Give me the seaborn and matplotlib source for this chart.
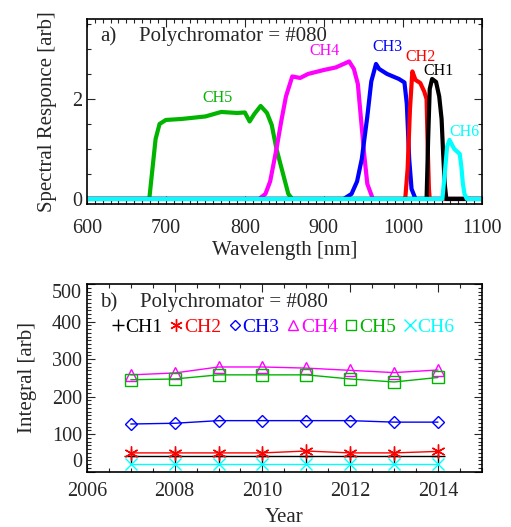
import pandas as pd
import matplotlib.pyplot as plt
from matplotlib.lines import Line2D
from matplotlib.ticker import MultipleLocator
import seaborn as sns

# spectral response curves (wavelength [nm], response [arb])
ch5_wl = [600, 679, 683, 687, 692, 700, 720, 750, 770, 790, 800, 806, 812, 820, 828, 834, 840, 848, 855, 860, 1100]
ch5_resp = [0, 0, 0.6, 1.2, 1.5, 1.58, 1.6, 1.65, 1.74, 1.72, 1.73, 1.55, 1.7, 1.86, 1.72, 1.48, 1.0, 0.52, 0.1, 0, 0]
ch4_wl = [600, 818, 826, 832, 840, 846, 852, 860, 870, 880, 900, 915, 925, 932, 938, 943, 947, 951, 955, 962, 1100]
ch4_resp = [0, 0, 0.1, 0.35, 1.0, 1.55, 2.05, 2.45, 2.42, 2.5, 2.58, 2.63, 2.7, 2.75, 2.6, 2.3, 1.6, 0.9, 0.3, 0, 0]
ch3_wl = [600, 925, 935, 942, 948, 955, 960, 966, 970, 980, 995, 1002, 1005, 1008, 1011, 1016, 1100]
ch3_resp = [0, 0, 0.1, 0.35, 0.8, 1.65, 2.35, 2.7, 2.6, 2.5, 2.4, 2.33, 1.9, 0.8, 0.2, 0, 0]
ch2_wl = [600, 1003, 1006, 1009, 1012, 1016, 1022, 1027, 1030, 1031.5, 1033, 1034, 1100]
ch2_resp = [0, 0, 0.6, 1.8, 2.55, 2.38, 2.32, 2.15, 2.0, 1.0, 0.2, 0, 0]
ch1_wl = [600, 1030, 1032, 1034, 1037, 1042, 1046, 1049, 1051, 1053, 1055, 1100]
ch1_resp = [0, 0, 1.2, 2.2, 2.4, 2.34, 2.05, 1.6, 0.9, 0.3, 0, 0]
ch6_wl = [600, 1050, 1053, 1056, 1059, 1065, 1072, 1074, 1076, 1078, 1081, 1100]
ch6_resp = [0, 0, 0.5, 1.05, 1.18, 1.0, 0.9, 0.65, 0.3, 0.1, 0, 0]

# integrated response per year
years = [2007, 2008, 2009, 2010, 2011, 2012, 2013, 2014]
ch1_int = [41, 41, 41, 41, 41, 41, 41, 41]
ch2_int = [50, 50, 50, 50, 55, 50, 50, 54]
ch3_int = [127, 129, 136, 136, 136, 136, 132, 132]
ch4_int = [258, 263, 279, 279, 276, 270, 264, 271]
ch5_int = [245, 247, 258, 258, 258, 247, 239, 251]
ch6_int = [20, 20, 20, 20, 20, 20, 20, 20]

channels = ['CH1', 'CH2', 'CH3', 'CH4', 'CH5', 'CH6']
colors = {'CH1': 'black', 'CH2': '#ff0000', 'CH3': '#0000ff',
          'CH4': '#ff00ff', 'CH5': '#00b400', 'CH6': '#00ffff'}
markers = {'CH1': '+', 'CH2': (6, 2, 0), 'CH3': 'D', 'CH4': '^', 'CH5': 's', 'CH6': 'x'}
msizes = {'CH1': 10, 'CH2': 10, 'CH3': 6.5, 'CH4': 8, 'CH5': 8, 'CH6': 9}

spectra = {'CH5': (ch5_wl, ch5_resp), 'CH4': (ch4_wl, ch4_resp), 'CH3': (ch3_wl, ch3_resp),
           'CH2': (ch2_wl, ch2_resp), 'CH1': (ch1_wl, ch1_resp), 'CH6': (ch6_wl, ch6_resp)}
integrals = {'CH1': ch1_int, 'CH2': ch2_int, 'CH3': ch3_int,
             'CH4': ch4_int, 'CH5': ch5_int, 'CH6': ch6_int}

df_spec = pd.concat([pd.DataFrame({'wl': wl, 'resp': r, 'ch': ch}) for ch, (wl, r) in spectra.items()],
                    ignore_index=True)

sns.set_style('ticks')
plt.rcParams['font.family'] = ['Liberation Serif', 'DejaVu Serif']

fig = plt.figure(figsize=(5.11, 5.27), dpi=100)
ax1 = fig.add_axes([0.170, 0.613, 0.773, 0.351])
ax2 = fig.add_axes([0.170, 0.105, 0.773, 0.356])

# a) spectral response
sns.lineplot(data=df_spec, x='wl', y='resp', hue='ch', hue_order=list(spectra.keys()),
             palette=colors, sort=False, estimator=None, lw=3, legend=False, ax=ax1)
ax1.set_xlim(600, 1100)
ax1.set_ylim(-0.1, 3.6)
ax1.set_xticks([600, 700, 800, 900, 1000, 1100])
ax1.set_yticks([0, 2])
ax1.xaxis.set_minor_locator(MultipleLocator(10))
ax1.yaxis.set_minor_locator(MultipleLocator(0.5))
ax1.set_xlabel('Wavelength [nm]', fontsize=15, labelpad=2)
ax1.set_ylabel('Spectral Responce [arb]', fontsize=15, labelpad=11)
ax1.text(0.033, 0.905, 'a)', transform=ax1.transAxes, fontsize=15, va='center')
ax1.text(0.132, 0.905, 'Polychromator = #080', transform=ax1.transAxes, fontsize=15, va='center')
ch_lab = {'CH5': (765, 2.02), 'CH4': (901, 2.95), 'CH3': (981, 3.03),
          'CH2': (1022, 2.83), 'CH1': (1045, 2.56), 'CH6': (1078, 1.34)}
for ch, (x, y) in ch_lab.items():
    ax1.text(x, y, ch, color=colors[ch], fontsize=11.5, ha='center', va='center')

# b) integral vs year
for ch in channels:
    hollow = markers[ch] in ('D', '^', 's')
    sns.lineplot(x=years, y=integrals[ch], color=colors[ch], lw=1, ax=ax2,
                 marker=markers[ch], markersize=msizes[ch],
                 markeredgecolor=colors[ch], markeredgewidth=1,
                 markerfacecolor='none' if hollow else colors[ch])
ax2.set_xlim(2006, 2015)
ax2.set_ylim(0, 500)
ax2.set_xticks([2006, 2008, 2010, 2012, 2014])
ax2.set_yticks([0, 100, 200, 300, 400, 500])
ax2.xaxis.set_minor_locator(MultipleLocator(0.5))
ax2.yaxis.set_minor_locator(MultipleLocator(10))
ax2.set_xlabel('Year', fontsize=15, labelpad=5)
ax2.set_ylabel('Integral [arb]', fontsize=15, labelpad=11)
ax2.text(0.033, 0.9, 'b)', transform=ax2.transAxes, fontsize=15, va='center')
ax2.text(0.135, 0.9, 'Polychromator = #080', transform=ax2.transAxes, fontsize=15, va='center')

handles = [Line2D([], [], ls='none', marker=markers[ch], color=colors[ch], markersize=msizes[ch] - 1,
                  markerfacecolor='none' if markers[ch] in ('D', '^', 's') else colors[ch],
                  markeredgewidth=1) for ch in channels]
ax2.legend(handles, channels, loc='center', bbox_to_anchor=(0.497, 0.772), ncol=6, frameon=False,
           fontsize=14, handlelength=0.6, handletextpad=0.1, columnspacing=0.4,
           labelcolor=[colors[c] for c in channels], borderaxespad=0)

for ax in (ax1, ax2):
    ax.tick_params(which='both', direction='in', top=True, right=True, labelsize=14.5, width=0.8)
    ax.tick_params(which='major', length=6)
    ax.tick_params(which='minor', length=3)
    for s in ax.spines.values():
        s.set_linewidth(1.2)
        s.set_color('black')
ax1.tick_params(axis='x', which='major', pad=11)
ax2.tick_params(axis='x', which='major', pad=7.5)

# edge labels of the lower y axis sit inside the frame, as in the original
yt = ax2.yaxis.get_major_ticks()
yt[0].label1.set_verticalalignment('bottom')
yt[-1].label1.set_verticalalignment('top')

fig.savefig('out.png', dpi=100)
